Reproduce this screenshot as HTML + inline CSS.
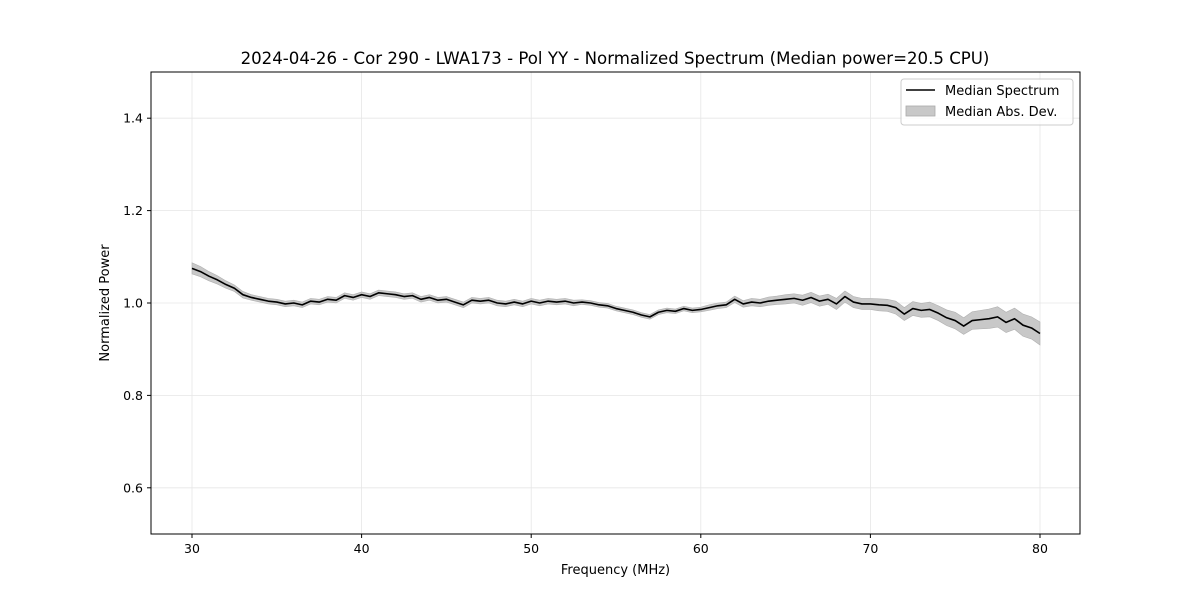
<!DOCTYPE html>
<html><head><meta charset="utf-8"><style>
html,body{margin:0;padding:0;background:#fff;}
svg{display:block;font-family:"DejaVu Sans","Liberation Sans",sans-serif;}
</style></head><body>
<svg id="chart" width="1200" height="600" viewBox="0 0 1200 600" xmlns="http://www.w3.org/2000/svg">
<rect width="1200" height="600" fill="#fff"/>
<text x="615" y="64" text-anchor="middle" font-size="16.6">2024-04-26 - Cor 290 - LWA173 - Pol YY - Normalized Spectrum (Median power=20.5 CPU)</text>
<g id="grid"></g>
<g id="marks"></g>
<rect x="151" y="72" width="929" height="462" fill="none" stroke="#000" stroke-width="1"/>
<g id="axes"></g>
<text x="615.5" y="574" text-anchor="middle" font-size="13">Frequency (MHz)</text>
<text transform="translate(109,303) rotate(-90)" text-anchor="middle" font-size="13">Normalized Power</text>
<g>
<rect x="901" y="79" width="172" height="46" rx="3" fill="#fff" fill-opacity="0.8" stroke="#ccc"/>
<line x1="906" y1="90" x2="935" y2="90" stroke="#000" stroke-width="1.6"/>
<text x="945" y="95" font-size="13">Median Spectrum</text>
<rect x="906" y="106" width="29" height="10" fill="#c8c8c8" stroke="#aaa" stroke-width="0.8"/>
<text x="945" y="116" font-size="13">Median Abs. Dev.</text>
</g>
</svg>
<script>
const freqStart = 30, freqStep = 0.5;
const median = [1.075,1.068,1.058,1.050,1.040,1.032,1.018,1.012,1.008,1.004,1.002,0.998,1.000,0.996,1.004,1.002,1.008,1.006,1.016,1.012,1.018,1.014,1.022,1.020,1.018,1.014,1.016,1.008,1.012,1.006,1.008,1.002,0.996,1.006,1.004,1.006,1.000,0.998,1.002,0.998,1.004,1.000,1.004,1.002,1.004,1.000,1.002,1.000,0.996,0.994,0.988,0.984,0.980,0.974,0.970,0.980,0.984,0.982,0.988,0.984,0.986,0.990,0.994,0.996,1.008,0.998,1.002,1.000,1.004,1.006,1.008,1.010,1.006,1.012,1.004,1.008,0.998,1.014,1.002,0.998,0.998,0.996,0.995,0.990,0.976,0.988,0.984,0.986,0.978,0.968,0.962,0.950,0.962,0.964,0.966,0.970,0.958,0.966,0.952,0.946,0.934];
const mad = [0.012,0.011,0.010,0.009,0.008,0.007,0.007,0.006,0.006,0.006,0.006,0.006,0.006,0.006,0.006,0.006,0.006,0.006,0.006,0.006,0.006,0.006,0.006,0.006,0.006,0.006,0.006,0.006,0.006,0.006,0.006,0.006,0.006,0.006,0.006,0.006,0.006,0.006,0.006,0.006,0.006,0.006,0.006,0.006,0.006,0.006,0.005,0.005,0.005,0.005,0.005,0.005,0.005,0.005,0.005,0.005,0.005,0.005,0.005,0.005,0.005,0.006,0.006,0.006,0.007,0.007,0.008,0.008,0.009,0.009,0.010,0.010,0.011,0.011,0.011,0.011,0.012,0.012,0.012,0.012,0.012,0.013,0.013,0.014,0.014,0.015,0.015,0.016,0.016,0.017,0.018,0.018,0.019,0.020,0.021,0.022,0.022,0.023,0.024,0.024,0.025];
const xTicks = [30,40,50,60,70,80];
const yTicks = [0.6,0.8,1.0,1.2,1.4];
const yTickLabels = ["0.6","0.8","1.0","1.2","1.4"];

const NS = "http://www.w3.org/2000/svg";
const X0 = 151, X1 = 1080, Y0 = 72, Y1 = 534;
const yMin = 0.5, yMax = 1.5;
function xs(f){ return 192 + (f - 30) * (1040 - 192) / 50; }
function ys(v){ return Y1 - (v - yMin) / (yMax - yMin) * (Y1 - Y0); }
function mk(tag, attrs, parent){ const e = document.createElementNS(NS, tag); for (const k in attrs) e.setAttribute(k, attrs[k]); parent.appendChild(e); return e; }

const grid = document.getElementById('grid'), axes = document.getElementById('axes'), marks = document.getElementById('marks');
xTicks.forEach(t => {
  const x = xs(t);
  const g = mk('line', {x1:x, x2:x, y1:Y0, y2:Y1, stroke:'#e6e6e6', 'stroke-width':0.8}, grid);
  
  
  const tk = mk('line', {x1:x, x2:x, y1:Y1, y2:Y1+4, stroke:'#000'}, axes);
  
  
  const lb = mk('text', {x:x, y:Y1+19, 'text-anchor':'middle', 'font-size':12.5}, axes);
  lb.textContent = String(t);
  
  
});
yTicks.forEach((t, i) => {
  const y = ys(t);
  const g = mk('line', {x1:X0, x2:X1, y1:y, y2:y, stroke:'#e6e6e6', 'stroke-width':0.8}, grid);
  
  
  const tk = mk('line', {x1:X0-4, x2:X0, y1:y, y2:y, stroke:'#000'}, axes);
  
  
  const lb = mk('text', {x:X0-8, y:y+4.5, 'text-anchor':'end', 'font-size':12.5}, axes);
  lb.textContent = yTickLabels[i];
  
  
});
let up = [], dn = [], ln = [];
median.forEach((v, i) => {
  const x = xs(freqStart + i * freqStep);
  up.push(x.toFixed(2) + ',' + ys(v + mad[i]).toFixed(2));
  dn.unshift(x.toFixed(2) + ',' + ys(v - mad[i]).toFixed(2));
  ln.push(x.toFixed(2) + ',' + ys(v).toFixed(2));
});
const band = mk('polygon', {points: up.concat(dn).join(' '), fill:'#c8c8c8', stroke:'#b0b0b0', 'stroke-width':0.6}, marks);


const line = mk('polyline', {points: ln.join(' '), fill:'none', stroke:'#000', 'stroke-width':1.6, 'stroke-linejoin':'round'}, marks);


</script>
</body></html>
